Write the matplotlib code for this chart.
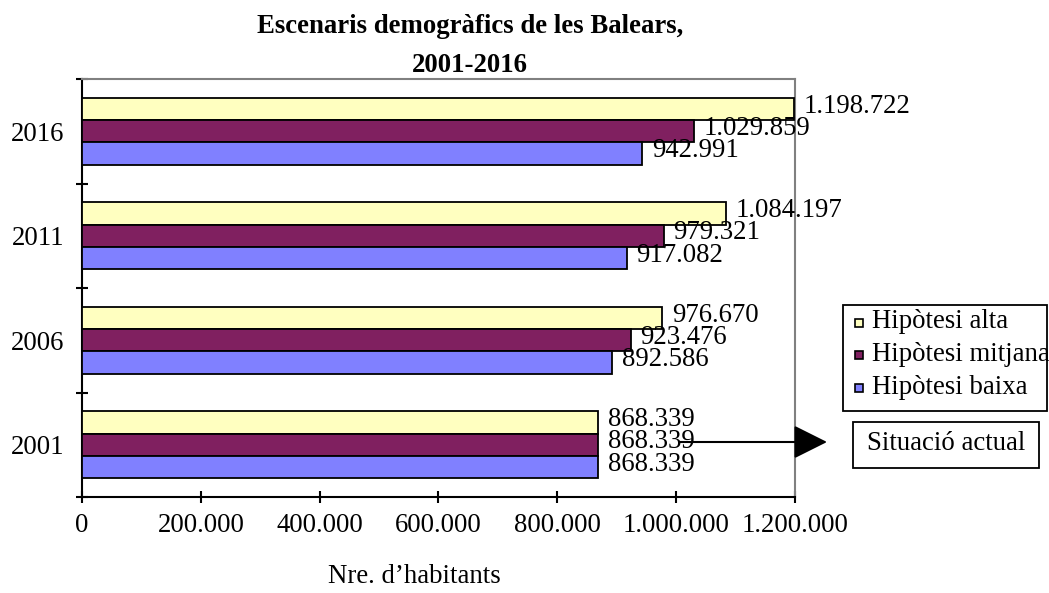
import matplotlib
matplotlib.use("Agg")
import matplotlib.pyplot as plt
from matplotlib.patches import Rectangle
import numpy as np

years = ["2001", "2006", "2011", "2016"]
series_names = ["Hipòtesi alta", "Hipòtesi mitjana", "Hipòtesi baixa"]
alta = [868339, 976670, 1084197, 1198722]
mitjana = [868339, 923476, 979321, 1029859]
baixa = [868339, 892586, 917082, 942991]
colors = ["#FFFFC0", "#802060", "#8080FF"]
xticks = [0, 200000, 400000, 600000, 800000, 1000000, 1200000]
title_lines = ["Escenaris demogràfics de les Balears,", "2001-2016"]
xlabel = "Nre. d\u2019habitants"
note = "Situació actual"

def fmt(v):
    return f"{v:,}".replace(",", ".")

plt.rcParams['font.family'] = ['Liberation Serif', 'DejaVu Serif']
FS = 19.3
W, H = 1049, 593
fig = plt.figure(figsize=(W / 100, H / 100), dpi=100)
ax = fig.add_axes([82 / W, 1 - 497 / H, (795 - 82) / W, (497 - 79) / H])

def fx(px):
    return px / W

def fy(py):
    return 1 - py / H

bh = 0.215
centers = np.arange(len(years)) + 0.5
data = [alta, mitjana, baixa]
offsets = [bh, 0, -bh]
for vals, off, c in zip(data, offsets, colors):
    ax.barh(centers + off, vals, height=bh, color=c, edgecolor="black", linewidth=1.3, zorder=3)
    for y, v in zip(centers + off, vals):
        ax.annotate(fmt(v), xy=(v, y), xytext=(7, 2), textcoords="offset points",
                    va="center", ha="left", fontsize=FS, zorder=5, annotation_clip=False)

ax.set_xlim(0, 1200000)
ax.set_ylim(0, len(years))
ax.set_xticks(xticks)
ax.set_xticklabels([fmt(v) for v in xticks], fontsize=FS)
ax.set_yticks(np.arange(len(years) + 1))
ax.set_yticklabels([])
ax.set_yticks(centers, minor=True)
ax.set_yticklabels(years, minor=True, fontsize=FS)
ax.tick_params(axis="y", which="major", direction="inout", length=9, width=1.5)
ax.tick_params(axis="y", which="minor", length=0, pad=13)
ax.tick_params(axis="x", which="major", direction="inout", length=9, width=1.5, pad=7)

for s in ["left", "bottom"]:
    ax.spines[s].set_color("black")
    ax.spines[s].set_linewidth(1.5)
for s in ["top", "right"]:
    ax.spines[s].set_color("#808080")
    ax.spines[s].set_linewidth(1.5)

fig.text(fx(470), fy(33), title_lines[0], ha="center", va="baseline", fontsize=FS, fontweight="bold")
fig.text(fx(470), fy(72), title_lines[1], ha="center", va="baseline", fontsize=FS, fontweight="bold")
fig.text(fx(414), fy(583), xlabel, ha="center", va="baseline", fontsize=FS)

# legend box
fig.add_artist(Rectangle((fx(843), fy(411)), fx(1047) - fx(843), fy(305) - fy(411),
                         transform=fig.transFigure, facecolor="white", edgecolor="black",
                         linewidth=1.3, zorder=2))
row_y = [322, 354.5, 387]
for name, c, ry in zip(series_names, colors, row_y):
    fig.add_artist(Rectangle((fx(855), fy(ry + 4.5)), fx(863) - fx(855), fy(ry - 3.5) - fy(ry + 4.5),
                             transform=fig.transFigure, facecolor=c, edgecolor="black",
                             linewidth=1.2, zorder=3))
    fig.text(fx(872), fy(ry), name, ha="left", va="center", fontsize=FS, zorder=4)

# situacio actual box
fig.add_artist(Rectangle((fx(853), fy(468)), fx(1039) - fx(853), fy(422) - fy(468),
                         transform=fig.transFigure, facecolor="white", edgecolor="black",
                         linewidth=1.3, zorder=2))
fig.text(fx(946), fy(444), note, ha="center", va="center", fontsize=FS, zorder=4)

ax.annotate("", xy=(fx(827), fy(442)), xytext=(fx(680), fy(442)),
            xycoords="figure fraction", textcoords="figure fraction",
            arrowprops=dict(arrowstyle="-|>,head_length=1.0,head_width=0.5", mutation_scale=21,
                            color="black", linewidth=1.5, shrinkA=0, shrinkB=0))

fig.savefig("out.png", dpi=100)
